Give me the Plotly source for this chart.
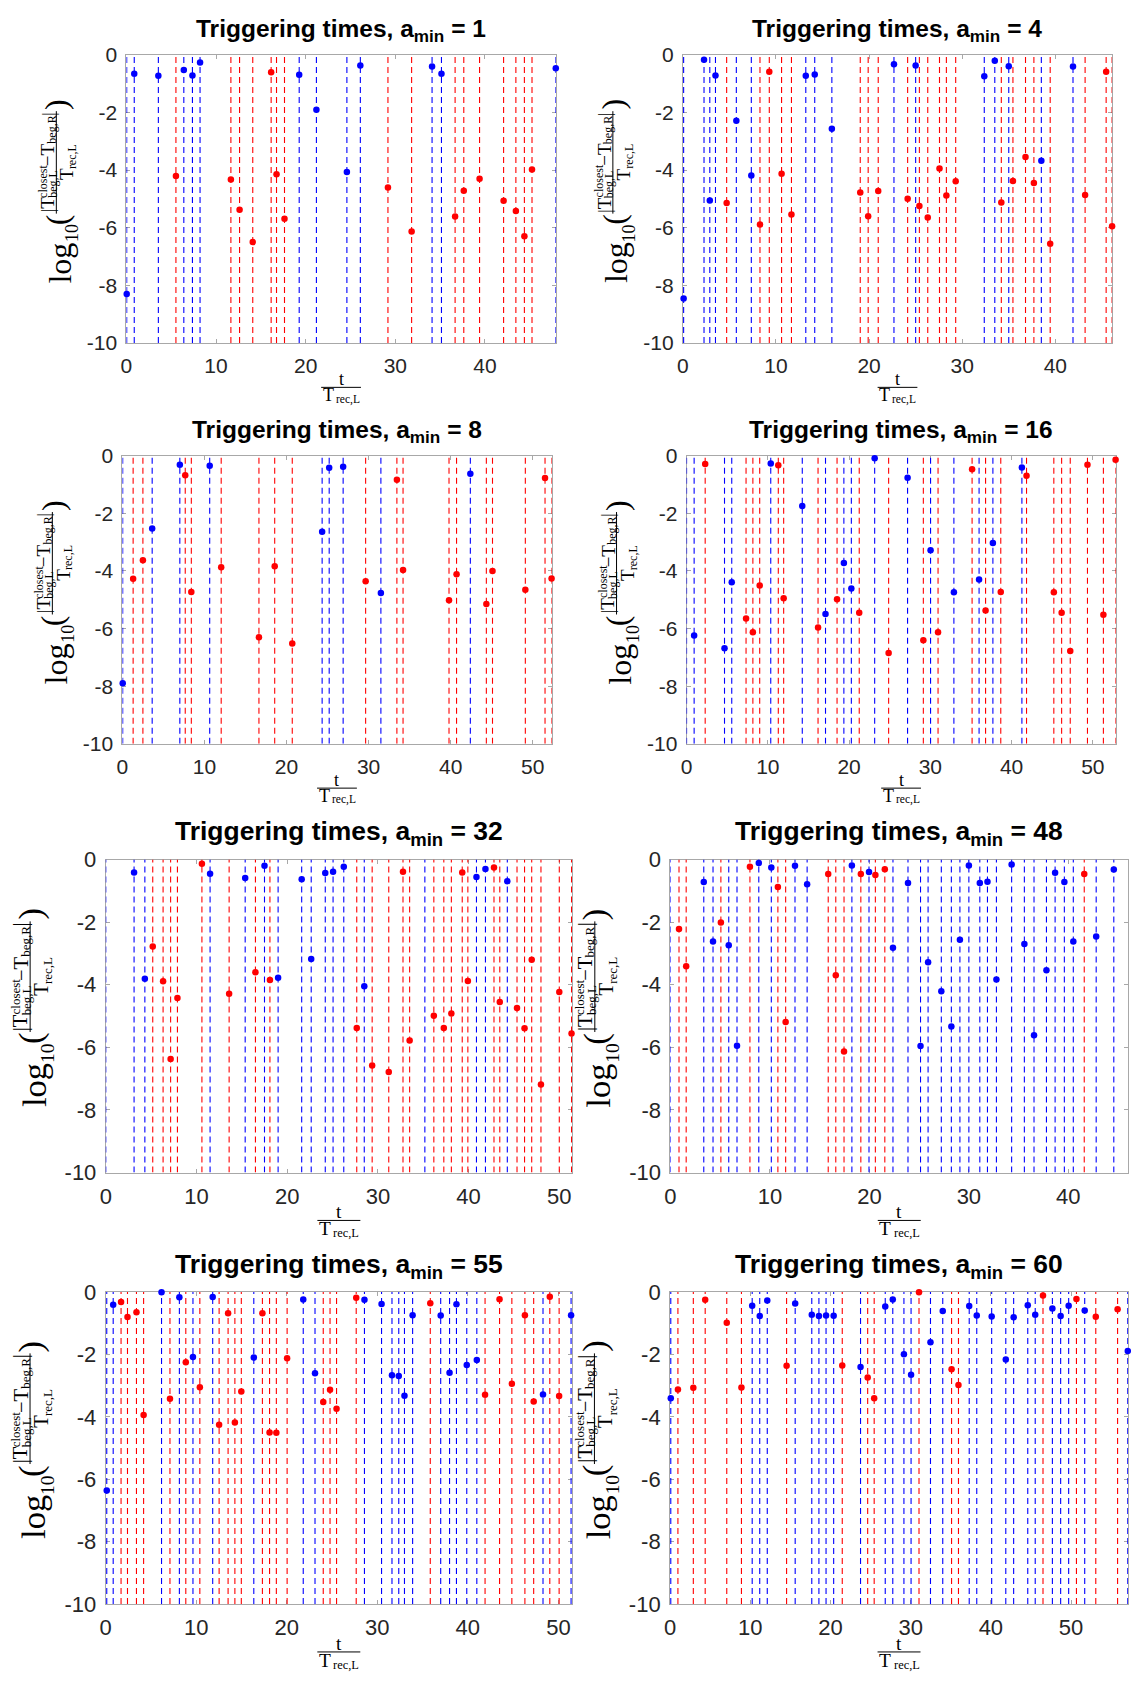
import plotly.graph_objects as go

W, H = 1131, 1688

# ---------------- data ----------------
a_min_values = [1, 4, 8, 16, 32, 48, 55, 60]
x_tick_vals = [0, 10, 20, 30, 40, 50]
y_tick_vals = [-10, -8, -6, -4, -2, 0]
y_tick_text = ["-10", "-8", "-6", "-4", "-2", "0"]
x_max = [47.9, 46.1, 52.3, 52.8, 51.4, 46.0, 51.5, 57.1]

p1_blue_t = [0.04, 0.88, 3.57, 6.41, 7.37, 8.22, 19.28, 21.2, 24.6, 26.1, 34.1, 35.15, 47.9]
p1_blue_v = [-8.30, -0.66, -0.73, -0.53, -0.72, -0.27, -0.70, -1.91, -4.07, -0.38, -0.41, -0.66, -0.47]
p1_red_t = [5.53, 11.66, 12.63, 14.1, 16.15, 16.75, 17.64, 29.18, 31.82, 36.67, 37.64, 39.4, 42.08, 43.45, 44.4, 45.25]
p1_red_v = [-4.21, -4.33, -5.38, -6.50, -0.61, -4.15, -5.69, -4.61, -6.13, -5.61, -4.72, -4.30, -5.07, -5.42, -6.30, -3.98]

p2_blue_t = [0.08, 2.27, 2.89, 3.5, 5.74, 7.35, 13.2, 14.16, 16.0, 22.67, 25.0, 32.37, 33.5, 35.0, 38.5, 41.9]
p2_blue_v = [-8.46, -0.18, -5.06, -0.72, -2.29, -4.19, -0.73, -0.69, -2.57, -0.33, -0.38, -0.75, -0.21, -0.40, -3.68, -0.41]
p2_red_t = [4.70, 8.28, 9.28, 10.6, 11.66, 19.05, 19.9, 20.98, 24.14, 25.4, 26.3, 27.56, 28.3, 29.3, 34.2, 35.45, 36.8, 37.7, 39.45, 43.2, 45.46, 46.1]
p2_red_v = [-5.14, -5.89, -0.59, -4.13, -5.54, -4.78, -5.6, -4.73, -5.0, -5.25, -5.65, -3.95, -4.88, -4.39, -5.13, -4.38, -3.55, -4.45, -6.56, -4.87, -0.59, -5.95]

p3_blue_t = [0.04, 3.63, 7.0, 10.64, 24.34, 25.2, 26.9, 31.5, 42.4]
p3_blue_v = [-7.9, -2.53, -0.32, -0.35, -2.64, -0.42, -0.39, -4.77, -0.63]
p3_red_t = [1.31, 2.5, 7.66, 8.4, 12.04, 16.64, 18.56, 20.7, 29.64, 33.45, 34.2, 39.8, 40.72, 44.35, 45.1, 49.1, 51.5, 52.3]
p3_red_v = [-4.27, -3.63, -0.68, -4.73, -3.87, -6.3, -3.84, -6.52, -4.36, -0.835, -3.97, -5.02, -4.12, -5.15, -4.0, -4.65, -0.78, -4.26]

p4_blue_t = [0.0, 0.93, 4.67, 5.56, 10.36, 14.24, 17.1, 19.36, 20.28, 23.15, 27.2, 30.03, 32.9, 36.0, 37.7, 41.27]
p4_blue_v = [None, -6.24, -6.68, -4.39, -0.27, -1.75, -5.5, -3.73, -4.61, -0.09, -0.77, -3.28, -4.74, -4.3, -3.03, -0.41]
p4_red_t = [2.29, 7.32, 8.16, 9.0, 11.29, 11.95, 16.18, 18.52, 21.25, 24.87, 29.14, 30.95, 35.14, 36.8, 38.67, 41.84, 45.2, 46.16, 47.22, 49.34, 51.3, 52.8]
p4_red_v = [-0.29, -5.65, -6.13, -4.51, -0.33, -4.95, -5.96, -4.98, -5.45, -6.85, -6.41, -6.13, -0.47, -5.37, -4.73, -0.70, -4.74, -5.45, -6.78, -0.32, -5.52, -0.14]

p5_blue_t = [0.0, 3.12, 4.31, 11.5, 15.37, 17.5, 19.0, 21.6, 22.65, 24.2, 25.06, 26.24, 28.5, 35.18, 40.87, 41.86, 44.27]
p5_blue_v = [None, -0.41, -3.81, -0.45, -0.59, -0.20, -3.78, -0.63, -3.18, -0.43, -0.39, -0.23, -4.05, None, -0.56, -0.30, -0.69]
p5_red_t = [5.18, 6.32, 7.15, 7.9, 10.6, 13.6, 16.5, 18.1, 27.67, 29.37, 31.2, 32.77, 33.5, 36.17, 37.27, 38.1, 39.3, 39.92, 42.8, 43.44, 45.34, 46.17, 46.96, 47.98, 50.0, 51.35]
p5_red_v = [-2.78, -3.89, -6.37, -4.42, -0.13, -4.29, -3.60, -3.85, -5.38, -6.58, -6.79, -0.39, -5.78, -4.99, -5.38, -4.92, -0.41, -3.88, -0.25, -4.55, -4.74, -5.39, -3.20, -7.19, -4.23, -5.56]

p6_blue_t = [0.0, 3.35, 4.28, 5.86, 6.69, 8.88, 10.14, 12.52, 13.74, 18.24, 19.96, 22.37, 23.88, 25.14, 25.9, 27.23, 28.24, 29.1, 30.0, 31.1, 31.87, 32.77, 34.3, 35.58, 36.55, 37.8, 38.67, 39.6, 40.5, 42.8, 44.57]
p6_blue_v = [None, -0.72, -2.62, -2.74, -5.95, -0.11, -0.25, -0.20, -0.79, -0.19, -0.40, -2.82, -0.75, -5.96, -3.28, -4.21, -5.33, -2.56, -0.19, -0.75, -0.71, -3.83, -0.16, -2.70, -5.61, -3.54, -0.42, -0.72, -2.62, -2.46, -0.32]
p6_red_t = [0.86, 1.58, 5.07, 7.99, 10.8, 11.58, 15.86, 16.62, 17.45, 19.14, 20.6, 21.55, 41.6]
p6_red_v = [-2.22, -3.41, -2.01, -0.23, -0.88, -5.19, -0.46, -3.70, -6.13, -0.46, -0.49, -0.31, -0.46]

p7_blue_t = [0.12, 0.83, 6.17, 8.14, 9.64, 11.82, 16.36, 21.82, 23.12, 28.58, 30.47, 31.62, 32.37, 33.0, 33.9, 37.0, 37.98, 38.74, 39.88, 40.99, 48.3, 51.4]
p7_blue_v = [-6.36, -0.41, -0.01, -0.17, -2.08, -0.16, -2.10, -0.24, -2.60, -0.25, -0.38, -2.67, -2.69, -3.32, -0.74, -0.75, -2.59, -0.39, -2.34, -2.18, -3.28, -0.74]
p7_red_t = [1.7, 2.41, 3.4, 4.19, 7.1, 8.85, 10.4, 12.53, 13.52, 14.27, 14.98, 17.31, 18.1, 18.85, 20.04, 24.03, 24.78, 25.5, 27.67, 35.85, 41.9, 43.5, 44.86, 46.3, 47.27, 49.05, 50.08]
p7_red_v = [-0.32, -0.80, -0.65, -3.94, -3.42, -2.25, -3.05, -4.25, -0.68, -4.18, -3.19, -0.68, -4.50, -4.51, -2.12, -3.52, -3.13, -3.74, -0.18, -0.36, -3.29, -0.23, -2.94, -0.74, -3.51, -0.15, -3.33]

p8_blue_t = [0.09, 10.24, 11.18, 12.12, 15.6, 17.67, 18.56, 19.45, 20.4, 23.75, 26.83, 27.77, 29.16, 30.05, 32.47, 34.0, 37.3, 38.24, 40.1, 41.86, 42.84, 44.6, 45.53, 47.67, 48.7, 49.7, 51.7, 57.07]
p8_blue_v = [-3.40, -0.44, -0.77, -0.27, -0.37, -0.73, -0.77, -0.75, -0.76, -2.40, -0.46, -0.24, -1.99, -2.65, -1.61, -0.61, -0.45, -0.75, -0.78, -2.16, -0.81, -0.42, -0.73, -0.53, -0.77, -0.44, -0.59, -1.89]
p8_red_t = [0.98, 2.9, 4.38, 7.07, 8.9, 14.53, 21.47, 24.64, 25.45, 31.04, 35.1, 35.96, 46.5, 50.67, 53.08, 55.8]
p8_red_v = [-3.12, -3.07, -0.25, -0.98, -3.06, -2.36, -2.35, -2.74, -3.40, -0.01, -2.47, -2.98, -0.11, -0.22, -0.79, -0.55]

series = [
    (p1_blue_t, p1_blue_v, p1_red_t, p1_red_v),
    (p2_blue_t, p2_blue_v, p2_red_t, p2_red_v),
    (p3_blue_t, p3_blue_v, p3_red_t, p3_red_v),
    (p4_blue_t, p4_blue_v, p4_red_t, p4_red_v),
    (p5_blue_t, p5_blue_v, p5_red_t, p5_red_v),
    (p6_blue_t, p6_blue_v, p6_red_t, p6_red_v),
    (p7_blue_t, p7_blue_v, p7_red_t, p7_red_v),
    (p8_blue_t, p8_blue_v, p8_red_t, p8_red_v),
]

# ---------------- layout geometry (pixels) ----------------
# (left, right, top, bottom, scale)
boxes = [
    (121.0, 552.7, 43.3, 336.0, 1.0),
    (680.5, 1112.0, 43.3, 336.0, 1.0),
    (117.0, 548.5, 450.3, 742.8, 1.0),
    (684.2, 1115.5, 450.3, 742.8, 1.0),
    (100.3, 569.0, 860.3, 1178.0, 1.08),
    (668.0, 1128.0, 860.3, 1178.0, 1.08),
    (100.2, 569.0, 1299.3, 1616.0, 1.08),
    (667.6, 1128.0, 1299.3, 1616.0, 1.08),
]

BLUE = "rgb(0,0,255)"
RED = "rgb(255,0,0)"
SANS = "Liberation Sans, Arial, sans-serif"
SERIF = "Liberation Serif, Times New Roman, serif"
AXC = "#a8a8a8"
TXT = "#262626"


def px2paper(px, py):
    return px / W, 1 - py / H


fig = go.Figure()
annotations = []
shapes = []


def ann(text, px, py, size, family=SERIF, angle=0, color="#000000",
        xanchor="center", yanchor="middle"):
    x, y = px2paper(px, py)
    annotations.append(dict(text=text, x=x, y=y, xref="paper", yref="paper",
                            showarrow=False, textangle=angle, borderpad=0,
                            font=dict(size=size, family=family, color=color),
                            xanchor=xanchor, yanchor=yanchor))


def hline(px0, px1, py, width=1.0):
    x0, y = px2paper(px0, py)
    x1, _ = px2paper(px1, py)
    shapes.append(dict(type="line", xref="paper", yref="paper", x0=x0, x1=x1,
                       y0=y, y1=y, line=dict(color="#000000", width=width)))


def vline(px, py0, py1, width=1.0):
    x, y0 = px2paper(px, py0)
    _, y1 = px2paper(px, py1)
    shapes.append(dict(type="line", xref="paper", yref="paper", x0=x, x1=x,
                       y0=y0, y1=y1, line=dict(color="#000000", width=width)))


def ylabel(left, cy, s):
    # offsets in px relative to (axis left, plot vertical centre), text rotated -90
    comps = [
        ("log", -67, 65, 32),
        ("10", -54, 35, 18),
        ("(", -70, 21, 32),
        ("|T", -79, 6, 19),
        ("closest", -84, -18, 12),
        ("beg,L", -74, -15, 12),
        ("\u2212T", -79, -45, 19),
        ("beg,R", -75, -70, 12),
        ("|", -79, -86, 19),
        ("T", -60, -25, 19),
        ("rec,L", -54, -43, 12),
        (")", -70, -96, 32),
    ]
    for text, dx, dy, size in comps:
        ann(text, left + dx * s, cy + dy * s, size * s, angle=-90)
    vline(left - 70.4 * s, cy - 89 * s, cy + 15 * s, width=1.0)


def xlabel(cx, bottom, s):
    ann("t", cx, bottom + 37 * s, 18 * s)
    hline(cx - 20 * s, cx + 20 * s, bottom + 45 * s, width=1.0)
    ann("T", cx - 13 * s, bottom + 53 * s, 18 * s)
    ann("rec,L", cx + 7 * s, bottom + 57 * s, 11.5 * s)


layout = dict(width=W, height=H, autosize=False, margin=dict(l=0, r=0, t=0, b=0),
              paper_bgcolor="white", plot_bgcolor="white", showlegend=False)

for i, ((bt, bv, rt, rv), (l, r, t, b, s), amin, xm) in enumerate(
        zip(series, boxes, a_min_values, x_max), start=1):
    xa = "x" if i == 1 else f"x{i}"
    ya = "y" if i == 1 else f"y{i}"
    for tt, vv, col in ((bt, bv, BLUE), (rt, rv, RED)):
        lx, ly = [], []
        for tv in tt:
            lx += [tv, tv, None]
            ly += [-10, 0, None]
        fig.add_trace(go.Scatter(x=lx, y=ly, mode="lines", xaxis=xa, yaxis=ya,
                                 line=dict(color=col, width=1.1, dash="6px,4px"),
                                 hoverinfo="skip"))
    for tt, vv, col in ((bt, bv, BLUE), (rt, rv, RED)):
        fig.add_trace(go.Scatter(x=tt, y=vv, mode="markers", xaxis=xa, yaxis=ya,
                                 marker=dict(color=col, size=6.5, line=dict(width=0)),
                                 cliponaxis=False))
    tick_font = dict(size=21 if s == 1.0 else 22, family=SANS, color=TXT)
    common = dict(showgrid=False, zeroline=False, showline=True, linecolor=AXC,
                  linewidth=1, mirror="ticks", ticks="inside", ticklen=4,
                  tickcolor=AXC, tickwidth=1, tickfont=tick_font, layer="below traces")
    layout["xaxis" if i == 1 else f"xaxis{i}"] = dict(
        domain=[l / W, r / W], range=[0, xm], anchor=ya, tickvals=x_tick_vals,
        ticklabelstandoff=4, **common)
    layout["yaxis" if i == 1 else f"yaxis{i}"] = dict(
        domain=[1 - b / H, 1 - t / H], range=[-10, 0], anchor=xa,
        tickvals=y_tick_vals, ticktext=y_tick_text, ticklabelstandoff=4, **common)
    cx = (l + r) / 2
    ann(f"<b>Triggering times, a<sub>min</sub> = {amin}</b>", cx, t - 8 * s,
        24.5 * s, family=SANS, yanchor="bottom")
    ylabel(l, (t + b) / 2, s)
    xlabel(cx, b, s)

layout["annotations"] = annotations
layout["shapes"] = shapes
fig.update_layout(**layout)
fig.write_html("out.html")
